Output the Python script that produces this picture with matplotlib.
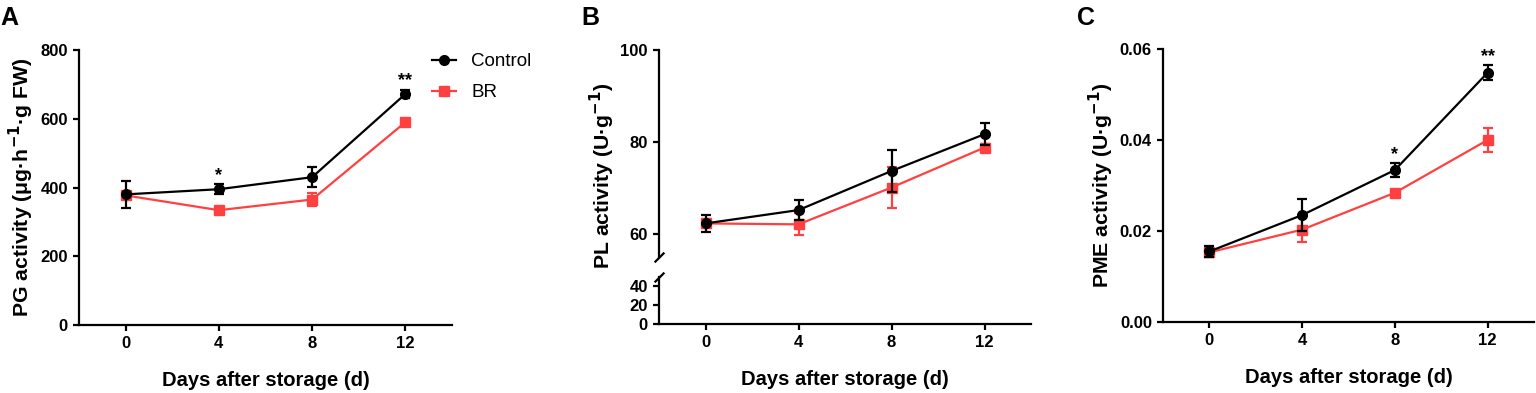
import matplotlib
matplotlib.use("Agg")
import matplotlib.pyplot as plt
from matplotlib.lines import Line2D

plt.rcParams['font.family'] = ['Liberation Sans', 'DejaVu Sans']
plt.rcParams['font.weight'] = 'bold'
plt.rcParams['axes.labelweight'] = 'bold'
plt.rcParams['mathtext.default'] = 'bf'

# data
days = [0, 4, 8, 12]

pg_control = [380, 395, 430, 672]
pg_control_err = [39, 14, 29, 13]
pg_br = [377, 334, 365, 590]
pg_br_err = [10, 8, 18, 8]
pg_sig = ['', '*', '', '**']

pl_control = [62.3, 65.2, 73.7, 81.7]
pl_control_err = [1.9, 2.1, 4.5, 2.4]
pl_br = [62.3, 62.1, 70.1, 78.8]
pl_br_err = [1.0, 2.4, 4.4, 0.7]

pme_control = [0.0155, 0.0235, 0.0334, 0.0548]
pme_control_err = [0.0012, 0.0035, 0.0015, 0.0016]
pme_br = [0.0153, 0.0203, 0.0284, 0.0400]
pme_br_err = [0.0010, 0.0027, 0.0005, 0.0027]
pme_sig = ['', '', '*', '**']

black = '#000000'
red = '#FF4040'
lw = 1.6
tick_fs = 12
xlabel_fs = 14.5
ylabel_fs = 15.3

fig = plt.figure(figsize=(15.36, 3.93), dpi=100)
W, H = 1536, 393


def frac(left, right, top, bottom):
    return [left / W, 1 - bottom / H, (right - left) / W, (bottom - top) / H]


def style(ax):
    for s in ['top', 'right']:
        ax.spines[s].set_visible(False)
    for s in ['left', 'bottom']:
        ax.spines[s].set_linewidth(lw)
    ax.tick_params(width=lw, length=4.5, pad=3.5, labelsize=tick_fs, direction='out')
    for t in ax.get_xticklabels() + ax.get_yticklabels():
        t.set_fontweight('bold')


def draw(ax, y1, e1, y2, e2):
    ax.errorbar(days, y1, yerr=e1, color=black, marker='o', ms=7, lw=1.6,
                capsize=3.5, capthick=1.6, elinewidth=1.6, zorder=3)
    ax.errorbar(days, y2, yerr=e2, color=red, marker='s', ms=7, lw=1.6,
                capsize=3.5, capthick=1.6, elinewidth=1.6, zorder=2)


def stars(ax, y, e, sig, off):
    for x, v, er, s in zip(days, y, e, sig):
        if s:
            ax.text(x, v + er + off, s, ha='center', va='bottom',
                    fontsize=13, fontweight='bold')


# ---- panel A ----
axA = fig.add_axes(frac(79, 452, 50, 325))
draw(axA, pg_control, pg_control_err, pg_br, pg_br_err)
stars(axA, pg_control, pg_control_err, pg_sig, 0)
axA.set_xlim(-2, 14)
axA.set_ylim(0, 800)
axA.set_xticks(days)
axA.set_yticks([0, 200, 400, 600, 800])
axA.set_xlabel('Days after storage (d)', fontsize=xlabel_fs, labelpad=14)
axA.set_ylabel(r'PG activity (μg·h$^{-1}$·g FW)', fontsize=ylabel_fs, labelpad=3)
style(axA)
handles = [Line2D([], [], color=black, marker='o', ms=7, lw=1.6),
           Line2D([], [], color=red, marker='s', ms=7, lw=1.6)]
leg = fig.legend(handles, ['Control', 'BR'], loc='upper left',
                 bbox_to_anchor=(432 / W, 1 - 53 / H), frameon=False,
                 fontsize=13.5, handlelength=1.3, handletextpad=0.8,
                 labelspacing=0.75, borderpad=0, borderaxespad=0)
for t in leg.get_texts():
    t.set_fontweight('normal')
fig.text(0.0, 0.985, 'A', fontsize=18, fontweight='bold', va='top')

# ---- panel B (broken axis) ----
axBt = fig.add_axes(frac(659, 1031, 50, 257))
axBb = fig.add_axes(frac(659, 1031, 277, 324))
for ax in (axBt, axBb):
    draw(ax, pl_control, pl_control_err, pl_br, pl_br_err)
    ax.set_xlim(-2, 14)
    style(ax)
axBt.set_ylim(55, 100)
axBt.set_yticks([60, 80, 100])
axBt.spines['bottom'].set_visible(False)
axBt.tick_params(axis='x', bottom=False, labelbottom=False)
axBb.set_ylim(0, 50)
axBb.set_yticks([0, 20, 40])
axBb.set_xticks(days)
for t in axBb.get_xticklabels() + axBb.get_yticklabels() + axBt.get_yticklabels():
    t.set_fontweight('bold')
axBb.set_xlabel('Days after storage (d)', fontsize=xlabel_fs, labelpad=14)
axBt.set_ylabel(r'PL activity (U·g$^{-1}$)', fontsize=ylabel_fs, labelpad=4)
axBt.yaxis.set_label_coords(-0.112, 0.39)
kw = dict(marker=[(-1, -1), (1, 1)], markersize=7, linestyle='none',
          color='k', mec='k', mew=lw, clip_on=False)
axBt.plot([0], [0], transform=axBt.transAxes, **kw)
axBb.plot([0], [1], transform=axBb.transAxes, **kw)
fig.text(581 / W, 0.985, 'B', fontsize=18, fontweight='bold', va='top')

# ---- panel C ----
axC = fig.add_axes(frac(1163, 1534, 49, 322))
draw(axC, pme_control, pme_control_err, pme_br, pme_br_err)
stars(axC, pme_control, pme_control_err, pme_sig, 0.0001)
axC.set_xlim(-2, 14)
axC.set_ylim(0, 0.06)
axC.set_xticks(days)
axC.set_yticks([0.0, 0.02, 0.04, 0.06])
axC.set_yticklabels(['0.00', '0.02', '0.04', '0.06'])
axC.set_xlabel('Days after storage (d)', fontsize=xlabel_fs, labelpad=14)
axC.set_ylabel(r'PME activity (U·g$^{-1}$)', fontsize=ylabel_fs, labelpad=3)
style(axC)
fig.text(1077 / W, 0.985, 'C', fontsize=18, fontweight='bold', va='top')

fig.savefig('out.png', dpi=100)
